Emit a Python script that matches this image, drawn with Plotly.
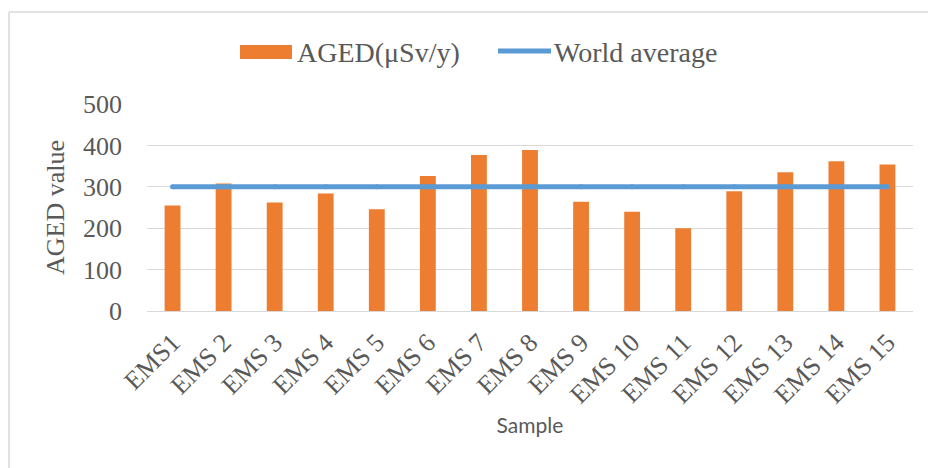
import plotly.graph_objects as go

# Sample labels and measured annual gonadal equivalent dose (µSv/y)
samples = ["EMS1", "EMS 2", "EMS 3", "EMS 4", "EMS 5", "EMS 6", "EMS 7", "EMS 8",
           "EMS 9", "EMS 10", "EMS 11", "EMS 12", "EMS 13", "EMS 14", "EMS 15"]
aged_values = [255, 308, 262, 284, 246, 326, 377, 389,
               264, 240, 200, 289, 335, 362, 354]
world_average = [300] * len(samples)

y_ticks = [0, 100, 200, 300, 400, 500]

ORANGE = "#ED7D31"
BLUE = "#5B9BD5"
GRID = "#D9D9D9"
TEXT = "#595959"
SERIF = "Liberation Serif, Times New Roman, serif"

# plot-area geometry in pixels, used to place the frame and legend
L, R, T, B = 147, 913, 104, 311
W, H = R - L, B - T


def px(x):
    return (x - L) / W


def py(y):
    return (B - y) / H


fig = go.Figure()

fig.add_trace(go.Bar(
    x=samples,
    y=aged_values,
    name="AGED(μSv/y)",
    marker=dict(color=ORANGE, line=dict(width=0)),
    showlegend=False,
))

fig.add_trace(go.Scatter(
    x=samples,
    y=world_average,
    name="World average",
    mode="lines+markers",
    line=dict(color=BLUE, width=5),
    marker=dict(color=BLUE, size=5, line=dict(width=0)),
    showlegend=False,
))

fig.update_layout(
    width=928,
    height=468,
    margin=dict(l=L, r=928 - R, t=T, b=468 - B),
    paper_bgcolor="white",
    plot_bgcolor="white",
    bargap=0.69,
    font=dict(family=SERIF, size=26, color=TEXT),
    showlegend=False,
    xaxis=dict(
        range=[-0.5, len(samples) - 0.5],
        tickangle=-45,
        tickfont=dict(family=SERIF, size=26, color=TEXT),
        showgrid=False,
        showline=False,
        ticks="",
        ticklabelstandoff=10,
        title=dict(text="Sample", font=dict(family="Lato, Carlito, sans-serif", size=21, color=TEXT),
                   standoff=10),
    ),
    yaxis=dict(
        range=[0, 500],
        tickvals=y_ticks,
        tickfont=dict(family=SERIF, size=26, color=TEXT),
        showgrid=True,
        gridcolor=GRID,
        gridwidth=1,
        zeroline=True,
        zerolinecolor=GRID,
        zerolinewidth=1,
        showline=False,
        ticks="",
        ticklabelstandoff=24,
        title=dict(text="AGED value", font=dict(family=SERIF, size=26, color=TEXT),
                   standoff=10),
    ),
    shapes=[
        # outer chart frame (left and top edges)
        dict(type="line", xref="paper", yref="paper",
             x0=px(9), x1=px(940), y0=py(12), y1=py(12),
             line=dict(color=GRID, width=1.5)),
        dict(type="line", xref="paper", yref="paper",
             x0=px(9), x1=px(9), y0=py(12), y1=py(480),
             line=dict(color=GRID, width=1.5)),
        # legend swatches
        dict(type="rect", xref="paper", yref="paper",
             x0=px(240), x1=px(292), y0=py(59), y1=py(45),
             fillcolor=ORANGE, line=dict(width=0)),
        dict(type="line", xref="paper", yref="paper",
             x0=px(498), x1=px(551), y0=py(51), y1=py(51),
             line=dict(color=BLUE, width=5)),
    ],
    annotations=[
        dict(text="AGED(μSv/y)", xref="paper", yref="paper",
             x=px(295), y=py(52), xanchor="left", yanchor="middle",
             showarrow=False, font=dict(family=SERIF, size=28, color=TEXT)),
        dict(text="World average", xref="paper", yref="paper",
             x=px(552), y=py(52), xanchor="left", yanchor="middle",
             showarrow=False, font=dict(family=SERIF, size=28, color=TEXT)),
    ],
)

fig.write_html("out.html")
